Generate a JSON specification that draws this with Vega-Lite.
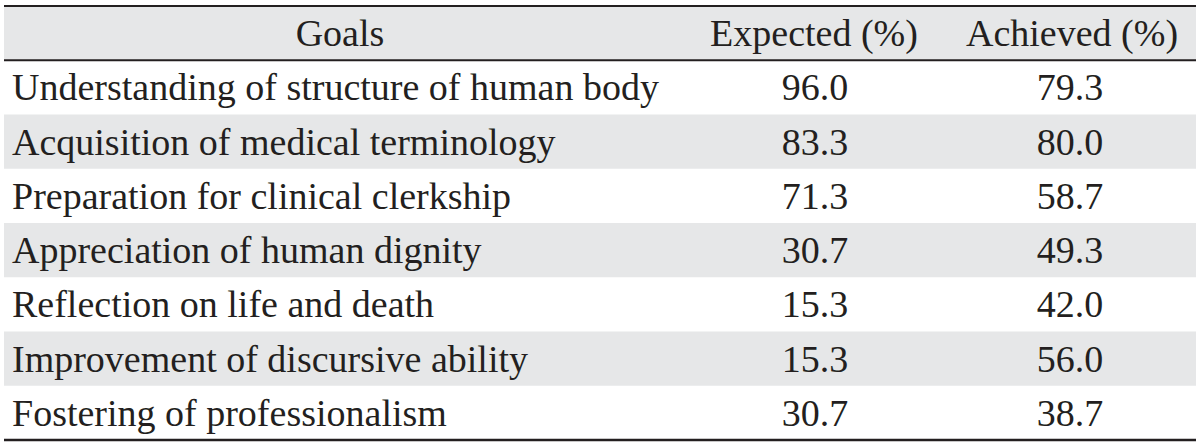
{
  "$schema": "https://vega.github.io/schema/vega-lite/v6.json",
  "width": 1192,
  "height": 434,
  "padding": {"top": 6, "bottom": 5, "left": 4, "right": 4},
  "autosize": {"type": "none"},
  "background": "white",
  "config": {"view": {"stroke": null}, "text": {"font": "Liberation Serif", "fontSize": 38, "color": "#231f20", "dy": 2}},
  "datasets": {
    "rows": [
      {"row": 1, "goal": "Understanding of structure of human body", "expected": "96.0", "achieved": "79.3"},
      {"row": 2, "goal": "Acquisition of medical terminology", "expected": "83.3", "achieved": "80.0"},
      {"row": 3, "goal": "Preparation for clinical clerkship", "expected": "71.3", "achieved": "58.7"},
      {"row": 4, "goal": "Appreciation of human dignity", "expected": "30.7", "achieved": "49.3"},
      {"row": 5, "goal": "Reflection on life and death", "expected": "15.3", "achieved": "42.0"},
      {"row": 6, "goal": "Improvement of discursive ability", "expected": "15.3", "achieved": "56.0"},
      {"row": 7, "goal": "Fostering of professionalism", "expected": "30.7", "achieved": "38.7"}
    ],
    "header": [
      {"row": 0, "goals": "Goals", "expected": "Expected (%)", "achieved": "Achieved (%)"}
    ],
    "bands": [
      {"row": 0}, {"row": 2}, {"row": 4}, {"row": 6}
    ],
    "lines": [
      {"row": 0, "edge": "top"},
      {"row": 1, "edge": "top"},
      {"row": 7, "edge": "bottom"}
    ]
  },
  "encoding": {},
  "layer": [
    {
      "data": {"name": "bands"},
      "mark": {"type": "rect", "fill": "#e6e7e8"},
      "encoding": {
        "y": {"field": "row", "type": "ordinal", "scale": {"domain": [0,1,2,3,4,5,6,7], "paddingInner": 0, "paddingOuter": 0}, "axis": null},
        "x": {"value": 0},
        "x2": {"value": "width"}
      }
    },
    {
      "data": {"name": "lines"},
      "transform": [{"filter": "datum.edge == 'top'"}],
      "mark": {"type": "rule", "color": "#231f20", "strokeWidth": 2},
      "encoding": {
        "y": {"field": "row", "type": "ordinal", "bandPosition": 0, "axis": null}
      }
    },
    {
      "data": {"name": "lines"},
      "transform": [{"filter": "datum.edge == 'bottom'"}],
      "mark": {"type": "rule", "color": "#231f20", "strokeWidth": 2.5},
      "encoding": {
        "y": {"field": "row", "type": "ordinal", "bandPosition": 1, "axis": null}
      }
    },
    {
      "data": {"name": "header"},
      "mark": {"type": "text", "align": "center", "baseline": "middle"},
      "encoding": {
        "y": {"field": "row", "type": "ordinal", "axis": null},
        "x": {"value": 336},
        "text": {"field": "goals"}
      }
    },
    {
      "data": {"name": "header"},
      "mark": {"type": "text", "align": "center", "baseline": "middle"},
      "encoding": {
        "y": {"field": "row", "type": "ordinal", "axis": null},
        "x": {"value": 810},
        "text": {"field": "expected"}
      }
    },
    {
      "data": {"name": "header"},
      "mark": {"type": "text", "align": "center", "baseline": "middle"},
      "encoding": {
        "y": {"field": "row", "type": "ordinal", "axis": null},
        "x": {"value": 1068},
        "text": {"field": "achieved"}
      }
    },
    {
      "data": {"name": "rows"},
      "mark": {"type": "text", "align": "left", "baseline": "middle"},
      "encoding": {
        "y": {"field": "row", "type": "ordinal", "axis": null},
        "x": {"value": 8},
        "text": {"field": "goal"}
      }
    },
    {
      "data": {"name": "rows"},
      "mark": {"type": "text", "align": "center", "baseline": "middle"},
      "encoding": {
        "y": {"field": "row", "type": "ordinal", "axis": null},
        "x": {"value": 811},
        "text": {"field": "expected"}
      }
    },
    {
      "data": {"name": "rows"},
      "mark": {"type": "text", "align": "center", "baseline": "middle"},
      "encoding": {
        "y": {"field": "row", "type": "ordinal", "axis": null},
        "x": {"value": 1066},
        "text": {"field": "achieved"}
      }
    }
  ]
}
